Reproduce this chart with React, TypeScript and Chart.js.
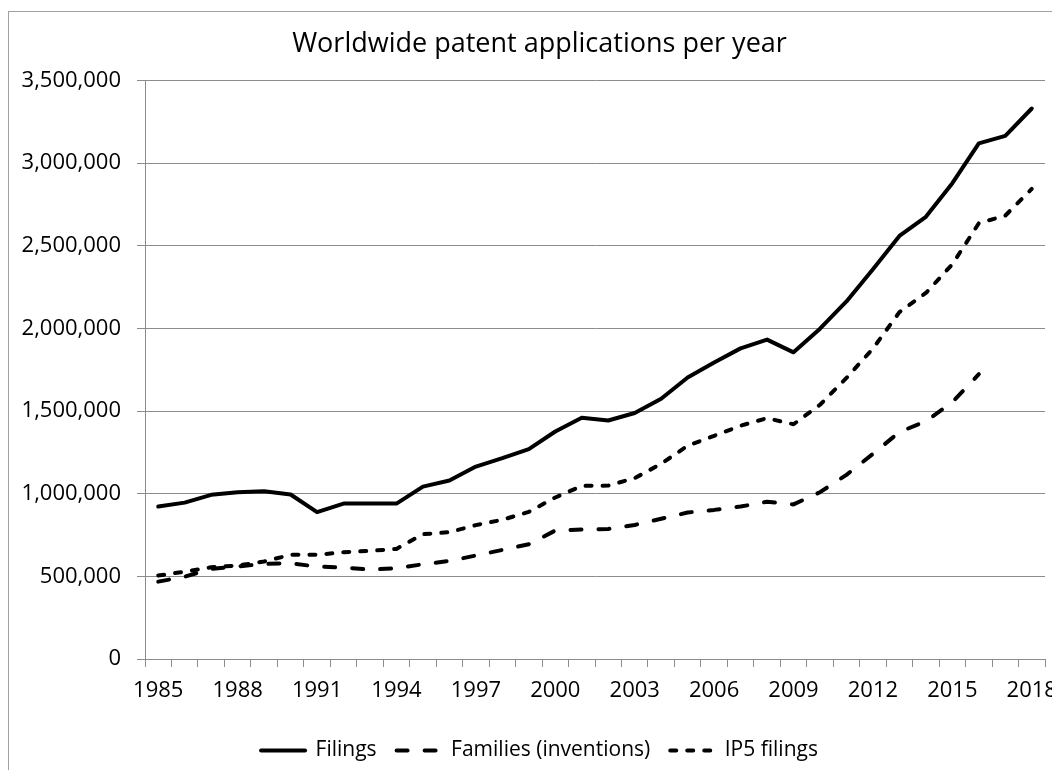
import React, { useEffect, useRef } from "react";
import { Chart, registerables } from "chart.js";

Chart.register(...registerables);

const years = [
  "1985", "1986", "1987", "1988", "1989", "1990", "1991", "1992", "1993", "1994",
  "1995", "1996", "1997", "1998", "1999", "2000", "2001", "2002", "2003", "2004",
  "2005", "2006", "2007", "2008", "2009", "2010", "2011", "2012", "2013", "2014",
  "2015", "2016", "2017", "2018",
];

const filings = [
  922000, 946000, 993000, 1009000, 1015000, 995000, 888000, 940000, 940000, 940000,
  1043000, 1080000, 1164000, 1215000, 1270000, 1376000, 1459000, 1443000, 1488000, 1574000,
  1703000, 1794000, 1879000, 1932000, 1855000, 1998000, 2163000, 2358000, 2559000, 2675000,
  2878000, 3119000, 3164000, 3330000,
];

const families = [
  468000, 498000, 545000, 560000, 575000, 579000, 559000, 553000, 541000, 549000,
  573000, 593000, 626000, 660000, 694000, 777000, 783000, 787000, 811000, 848000,
  886000, 902000, 922000, 951000, 935000, 1009000, 1114000, 1241000, 1373000, 1438000,
  1554000, 1723000,
];

const ip5Filings = [
  505000, 528000, 555000, 565000, 590000, 630000, 630000, 646000, 654000, 666000,
  755000, 767000, 810000, 842000, 890000, 977000, 1047000, 1049000, 1094000, 1181000,
  1290000, 1350000, 1411000, 1457000, 1420000, 1538000, 1700000, 1878000, 2098000, 2214000,
  2388000, 2636000, 2682000, 2844000,
];

const seriesNames = ["Filings", "Families (inventions)", "IP5 filings"];
const titleText = "Worldwide patent applications per year";

const FONT = "'Open Sans', 'DejaVu Sans', sans-serif";
const GRID = "#8c8c8c";

export default function App() {
  const ref = useRef<HTMLCanvasElement | null>(null);

  useEffect(() => {
    if (!ref.current) return;
    const chart = new Chart(ref.current, {
      type: "line",
      data: {
        labels: years,
        datasets: [
          {
            label: seriesNames[0],
            data: filings,
            borderColor: "#000000",
            backgroundColor: "#000000",
            borderWidth: 4,
            pointRadius: 0,
            tension: 0,
            borderCapStyle: "round",
            borderJoinStyle: "round",
          },
          {
            label: seriesNames[1],
            data: families,
            borderColor: "#000000",
            backgroundColor: "#000000",
            borderWidth: 4,
            pointRadius: 0,
            tension: 0,
            borderDash: [11, 17],
            borderCapStyle: "round",
            borderJoinStyle: "round",
          },
          {
            label: seriesNames[2],
            data: ip5Filings,
            borderColor: "#000000",
            backgroundColor: "#000000",
            borderWidth: 4,
            pointRadius: 0,
            tension: 0,
            borderDash: [6, 11],
            borderCapStyle: "round",
            borderJoinStyle: "round",
          },
        ],
      },
      options: {
        responsive: false,
        animation: false,
        maintainAspectRatio: false,
        layout: { padding: { left: 12, right: 21, top: 0, bottom: 0 } },
        plugins: {
          title: {
            display: true,
            text: titleText,
            color: "#000000",
            font: { family: FONT, size: 27, weight: "normal" },
            padding: { top: 16, bottom: 20 },
          },
          legend: {
            position: "bottom",
            labels: {
              color: "#000000",
              font: { family: FONT, size: 21 },
              usePointStyle: true,
              pointStyle: "line",
              pointStyleWidth: 44,
              padding: 20,
              generateLabels: (c: any) => {
                const items = Chart.defaults.plugins.legend.labels.generateLabels(c);
                items.forEach((it: any) => {
                  const ds: any = c.data.datasets[it.datasetIndex];
                  it.lineDash = ds.borderDash || [];
                  it.lineCap = ds.borderCapStyle || "butt";
                  it.lineWidth = 4;
                  it.strokeStyle = "#000000";
                  it.pointStyle = "line";
                });
                return items;
              },
            },
          },
          tooltip: { enabled: false },
        },
        scales: {
          x: {
            offset: true,
            grid: {
              offset: true,
              drawOnChartArea: false,
              drawTicks: true,
              tickLength: 8,
              color: GRID,
            },
            border: { color: GRID, width: 1 },
            ticks: {
              autoSkip: false,
              maxRotation: 0,
              minRotation: 0,
              padding: 11,
              color: "#000000",
              font: { family: FONT, size: 22 },
              callback: (_v: any, i: number) => (i % 3 === 0 ? years[i] : ""),
            },
            afterFit: (s: any) => {
              s.height = 61;
            },
          },
          y: {
            min: 0,
            max: 3500000,
            grid: {
              color: GRID,
              drawTicks: true,
              tickLength: 8,
            },
            border: { color: GRID, width: 1 },
            ticks: {
              stepSize: 500000,
              padding: 16,
              color: "#000000",
              font: { family: FONT, size: 22 },
              callback: (v: any) => Number(v).toLocaleString("en-US"),
            },
            afterFit: (s: any) => {
              s.width = 124;
            },
          },
          yRightSpace: {
            position: "right",
            min: 0,
            max: 3500000,
            grid: { display: false, drawOnChartArea: false },
            border: { display: false },
            ticks: { display: false },
            afterFit: (s: any) => {
              s.width = 13;
            },
          },
        },
      },
    });
    return () => chart.destroy();
  }, []);

  return (
    <div
      style={{
        position: "fixed",
        left: 0,
        top: 0,
        width: 1052,
        height: 770,
        overflow: "hidden",
        background: "#ffffff",
      }}
    >
      <div
        style={{
          position: "absolute",
          left: 8,
          top: 11,
          width: 1080,
          height: 800,
          border: "1px solid #a0a0a0",
          background: "#ffffff",
        }}
      >
        <canvas ref={ref} width={1070} height={759} style={{ display: "block" }} />
      </div>
    </div>
  );
}
